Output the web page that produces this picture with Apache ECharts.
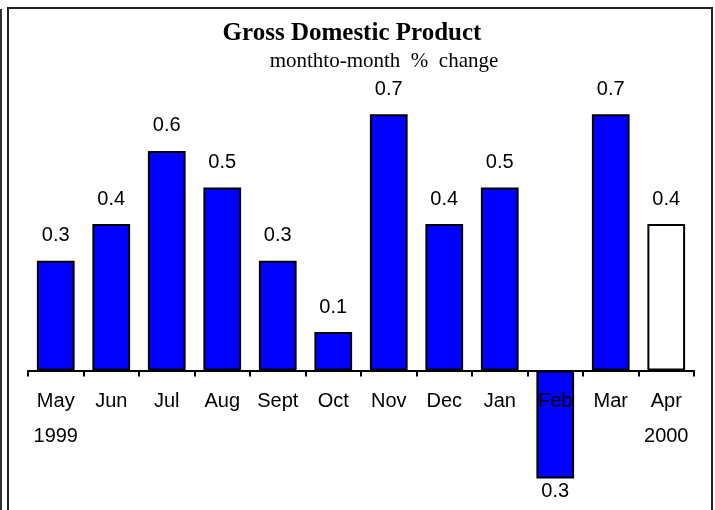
<!DOCTYPE html>
<html>
<head>
<meta charset="utf-8">
<script src="https://cdn.jsdelivr.net/npm/echarts@6/dist/echarts.min.js"></script>
<style>html,body{margin:0;padding:0;background:#fff}#c{width:715px;height:510px}</style>
</head>
<body>
<div id="c"></div>
<script>
var categories = ['May', 'Jun', 'Jul', 'Aug', 'Sept', 'Oct', 'Nov', 'Dec', 'Jan', 'Feb', 'Mar', 'Apr'];
var yearLabels = ['1999', '', '', '', '', '', '', '', '', '', '', '2000'];
var values = [0.3, 0.4, 0.6, 0.5, 0.3, 0.105, 0.7, 0.4, 0.5, -0.295, 0.7, 0.4];
var estimateIndex = 11; // Apr shown as hollow bar
var titleText = 'Gross Domestic Product';
var subtitleText = 'monthto-month  %  change';

var chart = echarts.init(document.getElementById('c'), null, {renderer: 'canvas'});

var data = values.map(function (v, i) {
  var item = {value: v};
  if (i === estimateIndex) {
    item.itemStyle = {color: '#ffffff'};
  }
  if (v < 0) {
    item.label = {position: 'bottom', distance: 3};
  }
  return item;
});

chart.setOption({
  animation: false,
  backgroundColor: '#ffffff',
  title: [
    {
      text: titleText,
      left: 347, top: 16, textAlign: 'center',
      textStyle: {fontFamily: 'Liberation Serif', fontWeight: 'bold', fontSize: 25, color: '#000'}
    },
    {
      text: subtitleText,
      left: 379, top: 46, textAlign: 'center',
      textStyle: {fontFamily: 'Liberation Serif', fontWeight: 'normal', fontSize: 21, color: '#000'}
    }
  ],
  graphic: [
    {type: 'rect', shape: {x: 8, y: 8, width: 704, height: 520}, style: {fill: null, stroke: '#222', lineWidth: 2}, silent: true, z: 100},
    {type: 'line', shape: {x1: 1, y1: 9, x2: 1, y2: 520}, style: {stroke: '#333', lineWidth: 2}, silent: true, z: 100}
  ],
  grid: {left: 28, right: 21, top: 77.7, height: 292.8, containLabel: false, outerBoundsMode: 'none'},
  xAxis: {
    type: 'category',
    data: categories,
    z: 5,
    axisLine: {onZero: false, lineStyle: {color: '#000', width: 2}},
    axisTick: {show: true, alignWithLabel: false, length: 6, lineStyle: {color: '#000', width: 2}},
    axisLabel: {
      interval: 0,
      margin: 13,
      fontFamily: 'Liberation Sans',
      fontSize: 20,
      lineHeight: 35,
      color: '#000',
      formatter: function (name, idx) {
        return yearLabels[idx] ? name + '\n' + yearLabels[idx] : name;
      }
    },
    splitLine: {show: false}
  },
  yAxis: {
    type: 'value', min: 0, max: 0.8, show: false,
    splitLine: {show: false}
  },
  series: [{
    type: 'bar',
    data: data,
    clip: false,
    barWidth: '68%',
    itemStyle: {color: '#0000ff', borderColor: '#000', borderWidth: 2},
    label: {
      show: true,
      position: 'top',
      distance: 15,
      fontFamily: 'Liberation Sans',
      fontSize: 20,
      color: '#000',
      formatter: function (p) { return Math.abs(p.value).toFixed(1); }
    }
  }]
});
</script>
</body>
</html>
